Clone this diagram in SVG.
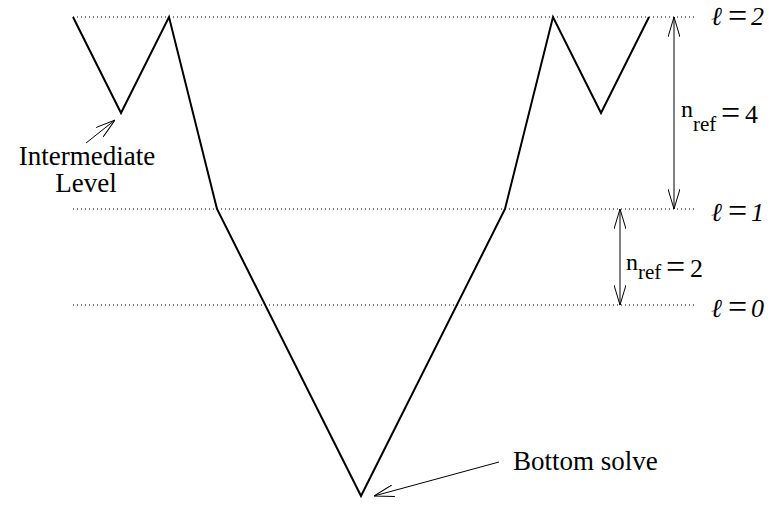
<svg xmlns="http://www.w3.org/2000/svg" width="769" height="505" viewBox="0 0 769 505">
<style>
.dot{stroke:#000;stroke-width:1;stroke-dasharray:1 3;fill:none}
.main{stroke:#000;stroke-width:2;fill:none;stroke-linejoin:miter}
.arr{stroke:#000;stroke-width:1;fill:none}
.it{font-style:italic}
.eq{font-size:34px}
</style>
<defs>
<marker id="oa" viewBox="0 0 20 12" refX="20" refY="6" markerWidth="20" markerHeight="12" markerUnits="userSpaceOnUse" orient="auto-start-reverse">
<path d="M0,0 L20,6 L0,12" fill="none" stroke="#000" stroke-width="1"/>
</marker>
</defs>
<g id="levels">
<line class="dot" x1="73" y1="17" x2="697" y2="17"/>
<line class="dot" x1="73" y1="209" x2="697" y2="209"/>
<line class="dot" x1="73" y1="305" x2="697" y2="305"/>
</g>
<g id="vcycle">
<polyline class="main" points="73,17 121,113 169,17 217,209 361,496 505,209 553,17 601,113 649,17"/>
</g>
<g id="connectors">
<line class="arr" x1="674" y1="17" x2="674" y2="209" marker-start="url(#oa)" marker-end="url(#oa)"/>
<line class="arr" x1="620" y1="209" x2="620" y2="305" marker-start="url(#oa)" marker-end="url(#oa)"/>
<line class="arr" x1="86" y1="143" x2="115" y2="120" marker-end="url(#oa)"/>
<line class="arr" x1="499" y1="462" x2="374" y2="496" marker-end="url(#oa)"/>
</g>
<g id="label-l2"><text font-family="Liberation Serif" font-size="26"><tspan class="it" x="711" y="25">ℓ</tspan><tspan class="eq" x="728" y="27">=</tspan><tspan class="it" x="751" y="25">2</tspan></text></g>
<g id="label-l1"><text font-family="Liberation Serif" font-size="26"><tspan class="it" x="711" y="221">ℓ</tspan><tspan class="eq" x="728" y="222">=</tspan><tspan class="it" x="751" y="221">1</tspan></text></g>
<g id="label-l0"><text font-family="Liberation Serif" font-size="26"><tspan class="it" x="711" y="317">ℓ</tspan><tspan class="eq" x="728" y="318">=</tspan><tspan class="it" x="751" y="317">0</tspan></text></g>
<g id="label-nref4"><text font-family="Liberation Serif" font-size="26"><tspan font-size="24" x="681" y="117">n</tspan><tspan font-size="21" x="693" y="131">ref</tspan><tspan class="eq" x="721" y="124">=</tspan><tspan x="745" y="123">4</tspan></text></g>
<g id="label-nref2"><text font-family="Liberation Serif" font-size="26"><tspan font-size="24" x="626" y="270">n</tspan><tspan font-size="21" x="638" y="279">ref</tspan><tspan class="eq" x="666" y="278">=</tspan><tspan x="690" y="277">2</tspan></text></g>
<g id="label-intermediate"><text font-family="Liberation Serif" font-size="27" x="87" y="165" text-anchor="middle">Intermediate</text><text font-family="Liberation Serif" font-size="27" x="86" y="192" text-anchor="middle">Level</text></g>
<g id="label-bottom"><text font-family="Liberation Serif" font-size="27" x="513" y="470">Bottom solve</text></g>
</svg>
